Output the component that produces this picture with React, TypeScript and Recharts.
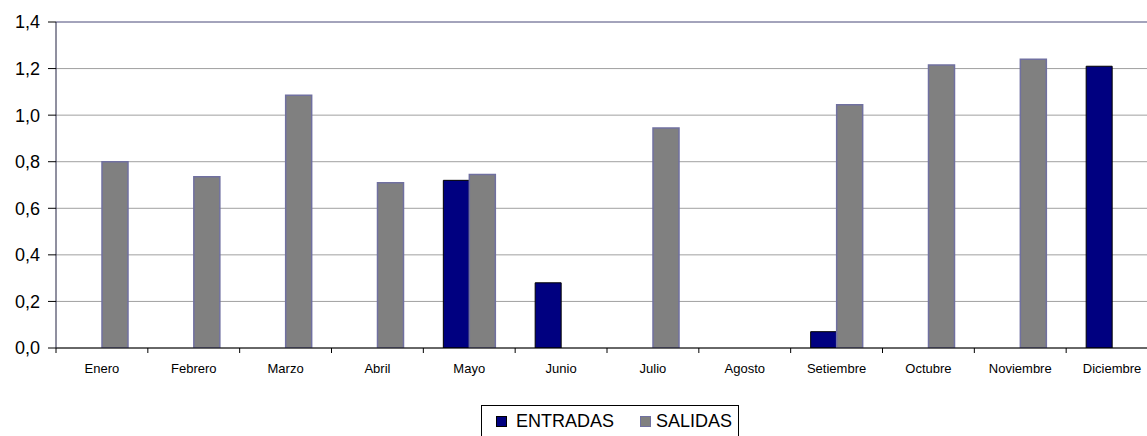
import { BarChart, Bar, XAxis, YAxis, CartesianGrid, Legend, ReferenceLine } from "recharts";

const MONTHS = [
  "Enero", "Febrero", "Marzo", "Abril", "Mayo", "Junio",
  "Julio", "Agosto", "Setiembre", "Octubre", "Noviembre", "Diciembre",
];
const ENTRADAS = [null, null, null, null, 0.72, 0.28, null, null, 0.07, null, null, 1.21];
const SALIDAS = [0.8, 0.735, 1.085, 0.71, 0.745, null, 0.945, null, 1.045, 1.215, 1.24, null];
const Y_TICKS = [0, 0.2, 0.4, 0.6, 0.8, 1.0, 1.2, 1.4];

const CHART_W = 1170;
const CHART_H = 436;
const LEFT = 56;
const RIGHT = 12;
const BAND = (CHART_W - LEFT - RIGHT) / MONTHS.length;

const data = MONTHS.map((m, i) => ({ name: m, entradas: ENTRADAS[i], salidas: SALIDAS[i] }));

const fmt = (v: number) => v.toFixed(1).replace(".", ",");

// category label + tick marks at the band edges
const MonthTick = (props: any) => {
  const { x, y, payload, index } = props;
  const half = BAND / 2;
  return (
    <g>
      <line x1={x - half} y1={y} x2={x - half} y2={y + 5} stroke="#000" />
      {index === MONTHS.length - 1 && (
        <line x1={x + half} y1={y} x2={x + half} y2={y + 5} stroke="#000" />
      )}
      <text x={x} y={y + 25} textAnchor="middle" fontSize={13} fill="#000" fontFamily="Liberation Sans, Arial">
        {payload.value}
      </text>
    </g>
  );
};

const LegendBox = () => (
  <div
    style={{
      border: "1px solid #000",
      height: 32,
      boxSizing: "border-box",
      display: "flex",
      alignItems: "center",
      fontFamily: "Liberation Sans, Arial",
      fontSize: 18,
      color: "#000",
      paddingLeft: 14,
    }}
  >
    <span style={{ width: 9, height: 9, background: "#000080", border: "1px solid #000", marginRight: 9 }} />
    <span style={{ marginRight: 26 }}>ENTRADAS</span>
    <span style={{ width: 9, height: 9, background: "#808080", border: "1px solid #7070a0", marginRight: 5 }} />
    <span>SALIDAS</span>
  </div>
);

export default function App() {
  return (
    <div style={{ position: "absolute", left: 0, top: 0, width: 1147, height: CHART_H, overflow: "hidden", background: "#fff" }}>
      <BarChart
        width={CHART_W}
        height={CHART_H}
        data={data}
        margin={{ top: 22, right: RIGHT, left: 0, bottom: 0 }}
        barSize={26}
        barGap={0}
      >
        <CartesianGrid horizontal vertical={false} stroke="#a0a0a0" />
        <ReferenceLine y={1.4} stroke="#7878a8" />
        <XAxis
          dataKey="name"
          height={56}
          tickLine={false}
          tickSize={0}
          tickMargin={0}
          interval={0}
          tick={<MonthTick />}
          axisLine={{ stroke: "#000" }}
        />
        <YAxis
          width={LEFT}
          domain={[0, 1.4]}
          ticks={Y_TICKS}
          tickFormatter={fmt}
          tickSize={8}
          tickMargin={8}
          axisLine={{ stroke: "#202040" }}
          tickLine={{ stroke: "#000" }}
          tick={{ fontSize: 18, fill: "#000", fontFamily: "Liberation Sans, Arial" }}
          allowDataOverflow
        />
        <Legend
          verticalAlign="bottom"
          content={<LegendBox />}
          wrapperStyle={{ left: 481, width: 258, bottom: -1 }}
        />
        <Bar dataKey="entradas" name="ENTRADAS" fill="#000080" stroke="#000" strokeWidth={1} isAnimationActive={false} />
        <Bar dataKey="salidas" name="SALIDAS" fill="#808080" stroke="#7070a0" strokeWidth={1.5} isAnimationActive={false} />
      </BarChart>
    </div>
  );
}
